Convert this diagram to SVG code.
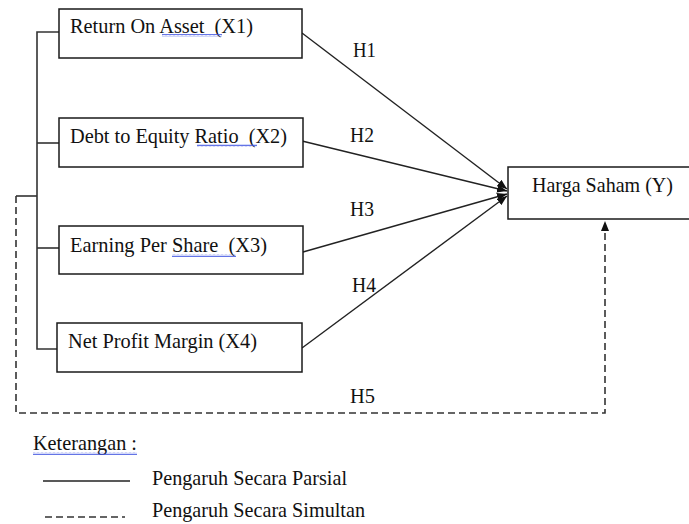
<svg xmlns="http://www.w3.org/2000/svg" width="689" height="524" viewBox="0 0 689 524">
<style>
.box{fill:#fff;stroke:#1a1a1a;stroke-width:1.5}
.t{font-family:"Liberation Serif","Times New Roman",serif;font-size:21px;fill:#111}
.ln{fill:none;stroke:#222;stroke-width:1.4}
.br{fill:none;stroke:#333;stroke-width:1.6}
.ds{fill:none;stroke:#333;stroke-width:1.6;stroke-dasharray:7 4}
.wv{fill:url(#wave)}
</style>
<defs>
<marker id="ah" viewBox="0 0 10 8" refX="10" refY="4" markerWidth="10" markerHeight="8" markerUnits="userSpaceOnUse" orient="auto">
<path d="M0 0 L10 4 L0 8 Z" fill="#111"/>
</marker>
<pattern id="wave" x="0" y="0" width="4" height="3" patternUnits="userSpaceOnUse">
<path d="M0 2.3 L1 0.7 L2 2.3 L3 0.7 L4 2.3" fill="none" stroke="#3b4fe0" stroke-width="0.8"/>
</pattern>
</defs>

<g id="connectors">
<path class="br" d="M59 32 H37 V349 H57"/>
<path class="br" d="M37 143 H59"/>
<path class="br" d="M37 248 H59"/>
<path class="br" d="M37 196 H16"/>
<path class="ln" d="M302 33 L507 189" marker-end="url(#ah)"/>
<path class="ln" d="M302 141 L507 191" marker-end="url(#ah)"/>
<path class="ln" d="M303 252 L507 194" marker-end="url(#ah)"/>
<path class="ln" d="M302 348 L507 196" marker-end="url(#ah)"/>
<path class="ds" d="M16 196 V413 H605 V229"/>
<path d="M605 221 L609 231 L601 231 Z" fill="#111"/>
<text class="t" x="353" y="57" textLength="23" lengthAdjust="spacingAndGlyphs">H1</text>
<text class="t" x="350" y="142" textLength="24" lengthAdjust="spacingAndGlyphs">H2</text>
<text class="t" x="350" y="216" textLength="24" lengthAdjust="spacingAndGlyphs">H3</text>
<text class="t" x="352" y="292" textLength="24" lengthAdjust="spacingAndGlyphs">H4</text>
<text class="t" x="350" y="403" textLength="25" lengthAdjust="spacingAndGlyphs">H5</text>
</g>

<g id="x1">
<rect class="box" x="59" y="9" width="243" height="49"/>
<text class="t" x="70" y="33" textLength="183" lengthAdjust="spacingAndGlyphs" xml:space="preserve">Return On Asset  (X1)</text>
<rect class="wv" x="162" y="34" width="60" height="3"/>
</g>

<g id="x2">
<rect class="box" x="59" y="118" width="244" height="49"/>
<text class="t" x="70" y="143" textLength="217" lengthAdjust="spacingAndGlyphs" xml:space="preserve">Debt to Equity Ratio  (X2)</text>
<rect class="wv" x="197" y="144" width="60" height="3"/>
</g>

<g id="x3">
<rect class="box" x="59" y="226" width="244" height="48"/>
<text class="t" x="70" y="252" textLength="197" lengthAdjust="spacingAndGlyphs" xml:space="preserve">Earning Per Share  (X3)</text>
<rect class="wv" x="172" y="254" width="64" height="3"/>
</g>

<g id="x4">
<rect class="box" x="57" y="323" width="245" height="49"/>
<text class="t" x="68" y="348" textLength="189" lengthAdjust="spacingAndGlyphs">Net Profit Margin (X4)</text>
</g>

<g id="y">
<rect class="box" x="508" y="167" width="183" height="52"/>
<text class="t" x="532" y="192" textLength="141" lengthAdjust="spacingAndGlyphs">Harga Saham (Y)</text>
</g>

<g id="legend">
<text class="t" x="33" y="450" textLength="104" lengthAdjust="spacingAndGlyphs">Keterangan :</text>
<rect class="wv" x="33" y="452" width="104" height="3"/>
<path class="ln" d="M43 481 H130" stroke-width="1.6"/>
<text class="t" x="152" y="485" textLength="195" lengthAdjust="spacingAndGlyphs">Pengaruh Secara Parsial</text>
<path class="ds" d="M45 517 H125" stroke-dasharray="6 5.5"/>
<text class="t" x="152" y="517" textLength="213" lengthAdjust="spacingAndGlyphs">Pengaruh Secara Simultan</text>
</g>
</svg>
